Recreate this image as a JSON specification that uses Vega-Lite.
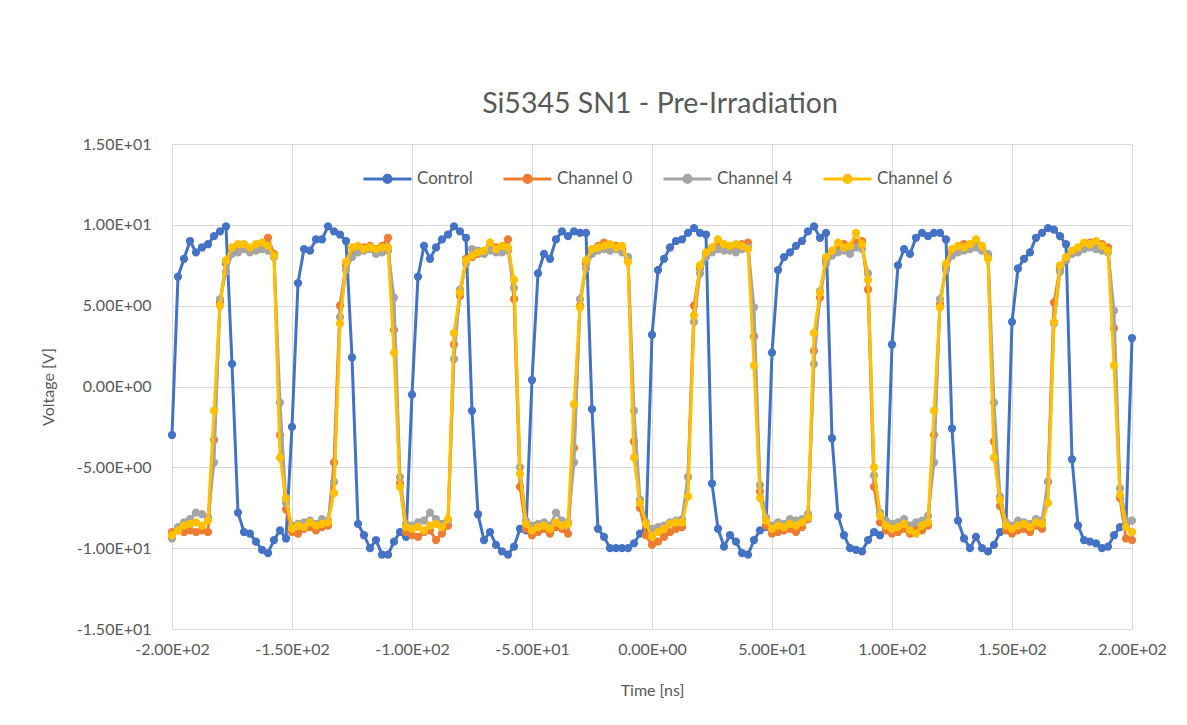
{
  "$schema": "https://vega.github.io/schema/vega-lite/v6.json",
  "width": 960,
  "height": 485,
  "autosize": {"type": "none"},
  "padding": {"left": 172, "top": 144, "right": 55, "bottom": 96},
  "background": "white",
  "title": {
    "text": "Si5345 SN1 - Pre-Irradiation",
    "font": "Lato",
    "fontSize": 28.5,
    "fontWeight": "normal",
    "color": "#595959",
    "anchor": "middle",
    "baseline": "alphabetic",
    "offset": 24,
    "dx": 8,
    "dy": 29
  },
  "config": {
    "view": {"stroke": "#d9d9d9", "strokeWidth": 1},
    "axis": {
      "grid": true,
      "gridColor": "#d9d9d9",
      "gridWidth": 1,
      "domain": false,
      "ticks": false,
      "labelFlush": false,
      "labelOverlap": false,
      "labelFont": "Lato",
      "labelFontSize": 16,
      "labelColor": "#595959",
      "titleFont": "Lato",
      "titleFontSize": 16,
      "titleFontWeight": "normal",
      "titleColor": "#595959"
    }
  },
  "data": {
    "values": [
      {"t": -200, "Control": -3.0, "Channel 0": -9.0, "Channel 4": -9.4, "Channel 6": -9.2},
      {"t": -197.5, "Control": 6.8, "Channel 0": -8.9, "Channel 4": -8.7, "Channel 6": -8.9},
      {"t": -195, "Control": 7.9, "Channel 0": -9.0, "Channel 4": -8.4, "Channel 6": -8.6},
      {"t": -192.5, "Control": 9.0, "Channel 0": -8.9, "Channel 4": -8.2, "Channel 6": -8.5},
      {"t": -190, "Control": 8.3, "Channel 0": -9.0, "Channel 4": -7.8, "Channel 6": -8.4},
      {"t": -187.5, "Control": 8.6, "Channel 0": -8.9, "Channel 4": -7.9, "Channel 6": -8.6},
      {"t": -185, "Control": 8.8, "Channel 0": -9.0, "Channel 4": -8.1, "Channel 6": -8.3},
      {"t": -182.5, "Control": 9.3, "Channel 0": -3.3, "Channel 4": -4.7, "Channel 6": -1.5},
      {"t": -180, "Control": 9.6, "Channel 0": 5.2, "Channel 4": 5.4, "Channel 6": 5.0},
      {"t": -177.5, "Control": 9.9, "Channel 0": 7.6, "Channel 4": 7.1, "Channel 6": 7.8},
      {"t": -175, "Control": 1.4, "Channel 0": 8.4, "Channel 4": 8.2, "Channel 6": 8.6},
      {"t": -172.5, "Control": -7.8, "Channel 0": 8.6, "Channel 4": 8.3, "Channel 6": 8.8},
      {"t": -170, "Control": -9.0, "Channel 0": 8.7, "Channel 4": 8.5, "Channel 6": 8.8},
      {"t": -167.5, "Control": -9.1, "Channel 0": 8.5, "Channel 4": 8.3, "Channel 6": 8.6},
      {"t": -165, "Control": -9.6, "Channel 0": 8.6, "Channel 4": 8.4, "Channel 6": 8.8},
      {"t": -162.5, "Control": -10.1, "Channel 0": 8.7, "Channel 4": 8.5, "Channel 6": 8.9},
      {"t": -160, "Control": -10.3, "Channel 0": 9.2, "Channel 4": 8.4, "Channel 6": 8.7},
      {"t": -157.5, "Control": -9.5, "Channel 0": 8.2, "Channel 4": 8.0, "Channel 6": 8.1},
      {"t": -155, "Control": -8.9, "Channel 0": -3.0, "Channel 4": -1.0, "Channel 6": -4.4},
      {"t": -152.5, "Control": -9.4, "Channel 0": -7.6, "Channel 4": -7.2, "Channel 6": -6.9},
      {"t": -150, "Control": -2.5, "Channel 0": -9.0, "Channel 4": -8.6, "Channel 6": -8.8},
      {"t": -147.5, "Control": 6.4, "Channel 0": -9.1, "Channel 4": -8.5, "Channel 6": -8.6},
      {"t": -145, "Control": 8.5, "Channel 0": -8.8, "Channel 4": -8.4, "Channel 6": -8.7},
      {"t": -142.5, "Control": 8.4, "Channel 0": -8.7, "Channel 4": -8.3, "Channel 6": -8.4},
      {"t": -140, "Control": 9.1, "Channel 0": -8.9, "Channel 4": -8.5, "Channel 6": -8.6},
      {"t": -137.5, "Control": 9.1, "Channel 0": -8.7, "Channel 4": -8.2, "Channel 6": -8.5},
      {"t": -135, "Control": 9.9, "Channel 0": -8.6, "Channel 4": -8.3, "Channel 6": -8.4},
      {"t": -132.5, "Control": 9.6, "Channel 0": -4.7, "Channel 4": -5.9, "Channel 6": -6.6},
      {"t": -130, "Control": 9.4, "Channel 0": 5.0, "Channel 4": 4.3, "Channel 6": 3.9},
      {"t": -127.5, "Control": 9.0, "Channel 0": 7.5, "Channel 4": 7.2, "Channel 6": 7.7},
      {"t": -125, "Control": 1.8, "Channel 0": 8.2, "Channel 4": 8.0, "Channel 6": 8.6},
      {"t": -122.5, "Control": -8.5, "Channel 0": 8.6, "Channel 4": 8.3, "Channel 6": 8.7},
      {"t": -120, "Control": -9.2, "Channel 0": 8.6, "Channel 4": 8.4, "Channel 6": 8.5},
      {"t": -117.5, "Control": -10.0, "Channel 0": 8.7, "Channel 4": 8.5, "Channel 6": 8.6},
      {"t": -115, "Control": -9.5, "Channel 0": 8.5, "Channel 4": 8.2, "Channel 6": 8.5},
      {"t": -112.5, "Control": -10.4, "Channel 0": 8.7, "Channel 4": 8.3, "Channel 6": 8.6},
      {"t": -110, "Control": -10.4, "Channel 0": 9.2, "Channel 4": 8.4, "Channel 6": 8.6},
      {"t": -107.5, "Control": -9.6, "Channel 0": 3.5, "Channel 4": 5.5, "Channel 6": 2.1},
      {"t": -105, "Control": -9.0, "Channel 0": -6.0, "Channel 4": -5.6, "Channel 6": -6.2},
      {"t": -102.5, "Control": -9.3, "Channel 0": -9.0, "Channel 4": -8.5, "Channel 6": -8.7},
      {"t": -100, "Control": -0.5, "Channel 0": -9.2, "Channel 4": -8.6, "Channel 6": -8.8},
      {"t": -97.5, "Control": 6.8, "Channel 0": -9.3, "Channel 4": -8.4, "Channel 6": -8.7},
      {"t": -95, "Control": 8.7, "Channel 0": -9.0, "Channel 4": -8.3, "Channel 6": -8.9},
      {"t": -92.5, "Control": 7.9, "Channel 0": -8.9, "Channel 4": -7.8, "Channel 6": -8.6},
      {"t": -90, "Control": 8.6, "Channel 0": -9.5, "Channel 4": -8.2, "Channel 6": -8.5},
      {"t": -87.5, "Control": 9.1, "Channel 0": -9.1, "Channel 4": -8.5, "Channel 6": -8.7},
      {"t": -85, "Control": 9.4, "Channel 0": -8.6, "Channel 4": -8.3, "Channel 6": -8.2},
      {"t": -82.5, "Control": 9.9, "Channel 0": 2.6, "Channel 4": 1.7, "Channel 6": 3.3},
      {"t": -80, "Control": 9.6, "Channel 0": 5.6, "Channel 4": 6.0, "Channel 6": 5.8},
      {"t": -77.5, "Control": 9.2, "Channel 0": 7.9, "Channel 4": 7.6, "Channel 6": 7.8},
      {"t": -75, "Control": -1.5, "Channel 0": 8.0, "Channel 4": 8.5, "Channel 6": 8.1},
      {"t": -72.5, "Control": -7.9, "Channel 0": 8.2, "Channel 4": 8.4, "Channel 6": 8.3},
      {"t": -70, "Control": -9.5, "Channel 0": 8.3, "Channel 4": 8.2, "Channel 6": 8.4},
      {"t": -67.5, "Control": -9.0, "Channel 0": 8.7, "Channel 4": 8.4, "Channel 6": 8.9},
      {"t": -65, "Control": -9.8, "Channel 0": 8.6, "Channel 4": 8.3, "Channel 6": 8.5},
      {"t": -62.5, "Control": -10.2, "Channel 0": 8.5, "Channel 4": 8.3, "Channel 6": 8.7},
      {"t": -60, "Control": -10.4, "Channel 0": 9.1, "Channel 4": 8.4, "Channel 6": 8.6},
      {"t": -57.5, "Control": -9.9, "Channel 0": 5.4, "Channel 4": 6.1, "Channel 6": 6.6},
      {"t": -55, "Control": -8.8, "Channel 0": -6.2, "Channel 4": -5.0, "Channel 6": -5.4},
      {"t": -52.5, "Control": -8.9, "Channel 0": -8.8, "Channel 4": -8.3, "Channel 6": -8.5},
      {"t": -50, "Control": 0.4, "Channel 0": -9.2, "Channel 4": -8.6, "Channel 6": -8.9},
      {"t": -47.5, "Control": 7.0, "Channel 0": -9.0, "Channel 4": -8.5, "Channel 6": -8.7},
      {"t": -45, "Control": 8.2, "Channel 0": -8.8, "Channel 4": -8.4, "Channel 6": -8.6},
      {"t": -42.5, "Control": 7.9, "Channel 0": -9.1, "Channel 4": -8.6, "Channel 6": -8.8},
      {"t": -40, "Control": 9.1, "Channel 0": -8.7, "Channel 4": -7.8, "Channel 6": -8.4},
      {"t": -37.5, "Control": 9.6, "Channel 0": -8.8, "Channel 4": -8.3, "Channel 6": -8.6},
      {"t": -35, "Control": 9.3, "Channel 0": -9.1, "Channel 4": -8.4, "Channel 6": -8.5},
      {"t": -32.5, "Control": 9.6, "Channel 0": -3.8, "Channel 4": -4.7, "Channel 6": -1.1},
      {"t": -30, "Control": 9.5, "Channel 0": 5.0, "Channel 4": 5.4, "Channel 6": 4.9},
      {"t": -27.5, "Control": 9.5, "Channel 0": 7.6, "Channel 4": 7.3, "Channel 6": 7.8},
      {"t": -25, "Control": -1.4, "Channel 0": 8.4, "Channel 4": 8.2, "Channel 6": 8.5},
      {"t": -22.5, "Control": -8.8, "Channel 0": 8.7, "Channel 4": 8.4, "Channel 6": 8.6},
      {"t": -20, "Control": -9.3, "Channel 0": 8.9, "Channel 4": 8.5, "Channel 6": 8.7},
      {"t": -17.5, "Control": -10.0, "Channel 0": 8.6, "Channel 4": 8.4, "Channel 6": 8.8},
      {"t": -15, "Control": -10.0, "Channel 0": 8.7, "Channel 4": 8.5, "Channel 6": 8.6},
      {"t": -12.5, "Control": -10.0, "Channel 0": 8.5, "Channel 4": 8.3, "Channel 6": 8.7},
      {"t": -10, "Control": -10.0, "Channel 0": 8.0, "Channel 4": 8.0, "Channel 6": 7.7},
      {"t": -7.5, "Control": -9.7, "Channel 0": -3.4, "Channel 4": -1.5, "Channel 6": -4.4},
      {"t": -5, "Control": -9.1, "Channel 0": -7.5, "Channel 4": -7.0, "Channel 6": -7.2},
      {"t": -2.5, "Control": -8.8, "Channel 0": -9.2, "Channel 4": -8.4, "Channel 6": -8.5},
      {"t": 0, "Control": 3.2, "Channel 0": -9.8, "Channel 4": -8.8, "Channel 6": -9.3},
      {"t": 2.5, "Control": 7.2, "Channel 0": -9.6, "Channel 4": -8.7, "Channel 6": -9.0},
      {"t": 5, "Control": 7.9, "Channel 0": -9.3, "Channel 4": -8.6, "Channel 6": -8.8},
      {"t": 7.5, "Control": 8.6, "Channel 0": -9.0, "Channel 4": -8.4, "Channel 6": -8.5},
      {"t": 10, "Control": 9.0, "Channel 0": -8.8, "Channel 4": -8.3, "Channel 6": -8.4},
      {"t": 12.5, "Control": 9.1, "Channel 0": -8.7, "Channel 4": -8.2, "Channel 6": -8.4},
      {"t": 15, "Control": 9.5, "Channel 0": -5.6, "Channel 4": -5.6, "Channel 6": -6.8},
      {"t": 17.5, "Control": 9.8, "Channel 0": 5.0, "Channel 4": 4.0, "Channel 6": 4.4},
      {"t": 20, "Control": 9.5, "Channel 0": 7.3, "Channel 4": 7.0, "Channel 6": 7.5},
      {"t": 22.5, "Control": 9.4, "Channel 0": 8.2, "Channel 4": 8.0, "Channel 6": 8.3},
      {"t": 25, "Control": -6.0, "Channel 0": 8.5, "Channel 4": 8.3, "Channel 6": 8.6},
      {"t": 27.5, "Control": -8.8, "Channel 0": 8.8, "Channel 4": 8.5, "Channel 6": 9.1},
      {"t": 30, "Control": -9.9, "Channel 0": 8.7, "Channel 4": 8.4, "Channel 6": 8.8},
      {"t": 32.5, "Control": -9.2, "Channel 0": 8.6, "Channel 4": 8.4, "Channel 6": 8.7},
      {"t": 35, "Control": -9.6, "Channel 0": 8.7, "Channel 4": 8.3, "Channel 6": 8.8},
      {"t": 37.5, "Control": -10.3, "Channel 0": 8.8, "Channel 4": 8.5, "Channel 6": 8.7},
      {"t": 40, "Control": -10.4, "Channel 0": 8.9, "Channel 4": 8.6, "Channel 6": 8.5},
      {"t": 42.5, "Control": -9.5, "Channel 0": 3.1, "Channel 4": 4.9, "Channel 6": 1.3},
      {"t": 45, "Control": -8.9, "Channel 0": -6.5, "Channel 4": -6.1, "Channel 6": -6.9},
      {"t": 47.5, "Control": -8.7, "Channel 0": -8.6, "Channel 4": -8.1, "Channel 6": -8.3},
      {"t": 50, "Control": 2.1, "Channel 0": -9.1, "Channel 4": -8.6, "Channel 6": -8.8},
      {"t": 52.5, "Control": 7.2, "Channel 0": -9.0, "Channel 4": -8.4, "Channel 6": -8.6},
      {"t": 55, "Control": 8.0, "Channel 0": -8.9, "Channel 4": -8.5, "Channel 6": -8.7},
      {"t": 57.5, "Control": 8.3, "Channel 0": -8.8, "Channel 4": -8.2, "Channel 6": -8.5},
      {"t": 60, "Control": 8.7, "Channel 0": -9.0, "Channel 4": -8.3, "Channel 6": -8.6},
      {"t": 62.5, "Control": 9.0, "Channel 0": -8.7, "Channel 4": -8.2, "Channel 6": -8.4},
      {"t": 65, "Control": 9.6, "Channel 0": -8.2, "Channel 4": -7.9, "Channel 6": -8.1},
      {"t": 67.5, "Control": 9.9, "Channel 0": 2.2, "Channel 4": 1.4, "Channel 6": 3.3},
      {"t": 70, "Control": 9.2, "Channel 0": 5.5, "Channel 4": 5.9, "Channel 6": 5.8},
      {"t": 72.5, "Control": 9.5, "Channel 0": 7.8, "Channel 4": 7.6, "Channel 6": 8.0},
      {"t": 75, "Control": -3.2, "Channel 0": 8.3, "Channel 4": 8.1, "Channel 6": 8.4},
      {"t": 77.5, "Control": -8.0, "Channel 0": 8.6, "Channel 4": 8.3, "Channel 6": 8.9},
      {"t": 80, "Control": -9.2, "Channel 0": 8.8, "Channel 4": 8.4, "Channel 6": 8.6},
      {"t": 82.5, "Control": -10.0, "Channel 0": 8.5, "Channel 4": 8.2, "Channel 6": 8.7},
      {"t": 85, "Control": -10.1, "Channel 0": 8.9, "Channel 4": 8.6, "Channel 6": 9.5},
      {"t": 87.5, "Control": -10.2, "Channel 0": 9.0, "Channel 4": 8.5, "Channel 6": 8.8},
      {"t": 90, "Control": -9.5, "Channel 0": 6.0, "Channel 4": 7.0, "Channel 6": 6.6},
      {"t": 92.5, "Control": -9.0, "Channel 0": -6.2, "Channel 4": -5.5, "Channel 6": -5.0},
      {"t": 95, "Control": -9.2, "Channel 0": -8.4, "Channel 4": -7.8, "Channel 6": -8.0},
      {"t": 97.5, "Control": -8.8, "Channel 0": -8.9, "Channel 4": -8.3, "Channel 6": -8.6},
      {"t": 100, "Control": 2.6, "Channel 0": -9.1, "Channel 4": -8.5, "Channel 6": -8.8},
      {"t": 102.5, "Control": 7.5, "Channel 0": -9.0, "Channel 4": -8.4, "Channel 6": -8.7},
      {"t": 105, "Control": 8.5, "Channel 0": -8.8, "Channel 4": -8.2, "Channel 6": -8.5},
      {"t": 107.5, "Control": 8.2, "Channel 0": -9.1, "Channel 4": -8.6, "Channel 6": -8.9},
      {"t": 110, "Control": 9.2, "Channel 0": -8.8, "Channel 4": -8.4, "Channel 6": -9.1},
      {"t": 112.5, "Control": 9.5, "Channel 0": -8.9, "Channel 4": -8.3, "Channel 6": -8.6},
      {"t": 115, "Control": 9.3, "Channel 0": -8.6, "Channel 4": -8.0, "Channel 6": -8.4},
      {"t": 117.5, "Control": 9.5, "Channel 0": -3.0, "Channel 4": -4.7, "Channel 6": -1.5},
      {"t": 120, "Control": 9.5, "Channel 0": 5.1, "Channel 4": 5.4, "Channel 6": 4.9},
      {"t": 122.5, "Control": 9.1, "Channel 0": 7.4, "Channel 4": 7.2, "Channel 6": 7.6},
      {"t": 125, "Control": -2.6, "Channel 0": 8.3, "Channel 4": 8.1, "Channel 6": 8.5},
      {"t": 127.5, "Control": -8.3, "Channel 0": 8.6, "Channel 4": 8.3, "Channel 6": 8.7},
      {"t": 130, "Control": -9.4, "Channel 0": 8.8, "Channel 4": 8.4, "Channel 6": 8.6},
      {"t": 132.5, "Control": -10.0, "Channel 0": 8.7, "Channel 4": 8.5, "Channel 6": 8.8},
      {"t": 135, "Control": -9.3, "Channel 0": 8.9, "Channel 4": 8.6, "Channel 6": 9.1},
      {"t": 137.5, "Control": -10.0, "Channel 0": 8.6, "Channel 4": 8.4, "Channel 6": 8.7},
      {"t": 140, "Control": -10.2, "Channel 0": 8.1, "Channel 4": 8.2, "Channel 6": 7.9},
      {"t": 142.5, "Control": -9.8, "Channel 0": -3.4, "Channel 4": -1.0, "Channel 6": -4.4},
      {"t": 145, "Control": -9.0, "Channel 0": -7.4, "Channel 4": -6.8, "Channel 6": -7.0},
      {"t": 147.5, "Control": -8.6, "Channel 0": -8.9, "Channel 4": -8.4, "Channel 6": -8.6},
      {"t": 150, "Control": 4.0, "Channel 0": -9.1, "Channel 4": -8.6, "Channel 6": -8.8},
      {"t": 152.5, "Control": 7.3, "Channel 0": -8.9, "Channel 4": -8.3, "Channel 6": -8.6},
      {"t": 155, "Control": 7.9, "Channel 0": -8.8, "Channel 4": -8.4, "Channel 6": -8.5},
      {"t": 157.5, "Control": 8.3, "Channel 0": -9.0, "Channel 4": -8.5, "Channel 6": -8.7},
      {"t": 160, "Control": 9.2, "Channel 0": -8.6, "Channel 4": -8.2, "Channel 6": -8.4},
      {"t": 162.5, "Control": 9.5, "Channel 0": -8.8, "Channel 4": -8.3, "Channel 6": -8.5},
      {"t": 165, "Control": 9.8, "Channel 0": -5.9, "Channel 4": -5.9, "Channel 6": -7.2},
      {"t": 167.5, "Control": 9.7, "Channel 0": 5.2, "Channel 4": 3.9, "Channel 6": 4.0},
      {"t": 170, "Control": 9.3, "Channel 0": 7.3, "Channel 4": 7.1, "Channel 6": 7.5},
      {"t": 172.5, "Control": 8.8, "Channel 0": 7.9, "Channel 4": 7.8, "Channel 6": 8.0},
      {"t": 175, "Control": -4.5, "Channel 0": 8.3, "Channel 4": 8.2, "Channel 6": 8.4},
      {"t": 177.5, "Control": -8.6, "Channel 0": 8.5, "Channel 4": 8.3, "Channel 6": 8.6},
      {"t": 180, "Control": -9.5, "Channel 0": 8.7, "Channel 4": 8.5, "Channel 6": 8.9},
      {"t": 182.5, "Control": -9.6, "Channel 0": 8.9, "Channel 4": 8.6, "Channel 6": 8.8},
      {"t": 185, "Control": -9.7, "Channel 0": 8.7, "Channel 4": 8.5, "Channel 6": 9.0},
      {"t": 187.5, "Control": -10.0, "Channel 0": 8.8, "Channel 4": 8.4, "Channel 6": 8.7},
      {"t": 190, "Control": -9.9, "Channel 0": 8.6, "Channel 4": 8.3, "Channel 6": 8.4},
      {"t": 192.5, "Control": -9.2, "Channel 0": 3.6, "Channel 4": 4.7, "Channel 6": 1.3},
      {"t": 195, "Control": -8.7, "Channel 0": -6.9, "Channel 4": -6.3, "Channel 6": -6.7},
      {"t": 197.5, "Control": -8.5, "Channel 0": -9.4, "Channel 4": -8.3, "Channel 6": -8.7},
      {"t": 200, "Control": 3.0, "Channel 0": -9.5, "Channel 4": -8.3, "Channel 6": -9.0}
    ]
  },
  "transform": [
    {"fold": ["Control", "Channel 0", "Channel 4", "Channel 6"], "as": ["series", "v"]}
  ],
  "encoding": {
    "x": {
      "field": "t",
      "type": "quantitative",
      "scale": {"domain": [-200, 200], "nice": false, "zero": false},
      "axis": {
        "values": [-200, -150, -100, -50, 0, 50, 100, 150, 200],
        "labelExpr": "replace(replace(format(datum.value, '.2e'), 'e+', 'E+0'), '\u2212', '-')",
        "labelPadding": 12,
        "title": "Time [ns]",
        "titleX": 480,
        "titleY": 61,
        "titleBaseline": "middle",
        "titleAlign": "center"
      }
    },
    "y": {
      "field": "v",
      "type": "quantitative",
      "scale": {"domain": [-15, 15], "nice": false, "zero": false},
      "axis": {
        "values": [-15, -10, -5, 0, 5, 10, 15],
        "labelExpr": "replace(replace(format(datum.value, '.2e'), 'e+', 'E+0'), '\u2212', '-')",
        "labelPadding": 21,
        "title": "Voltage [V]",
        "titleAngle": -90,
        "titleX": -124,
        "titleY": 242.5,
        "titleBaseline": "middle",
        "titleAlign": "center"
      }
    },
    "color": {
      "field": "series",
      "type": "nominal",
      "scale": {
        "domain": ["Control", "Channel 0", "Channel 4", "Channel 6"],
        "range": ["#4472C4", "#ED7D31", "#A5A5A5", "#FFC000"]
      },
      "legend": {
        "title": null,
        "orient": "none",
        "direction": "horizontal",
        "legendX": 190,
        "legendY": 9,
        "padding": 0,
        "symbolType": "M-1,0L1,0M0.15,0A0.15,0.15,0,1,1,-0.15,0A0.15,0.15,0,1,1,0.15,0Z",
        "symbolSize": 2304,
        "symbolStrokeWidth": 3,
        "labelFont": "Lato",
        "labelFontSize": 17,
        "labelColor": "#595959",
        "labelOffset": 4,
        "columnPadding": 24,
        "encode": {
          "symbols": {
            "update": {
              "fill": {"scale": "color", "field": "value"},
              "stroke": {"scale": "color", "field": "value"},
              "opacity": {"value": 1}
            }
          }
        }
      }
    }
  },
  "layer": [
    {
      "transform": [{"filter": {"field": "series", "equal": "Control"}}],
      "mark": {"type": "line", "strokeWidth": 3, "point": {"filled": true, "size": 68, "opacity": 1}}
    },
    {
      "transform": [{"filter": {"field": "series", "equal": "Channel 0"}}],
      "mark": {"type": "line", "strokeWidth": 3, "point": {"filled": true, "size": 68, "opacity": 1}}
    },
    {
      "transform": [{"filter": {"field": "series", "equal": "Channel 4"}}],
      "mark": {"type": "line", "strokeWidth": 3, "point": {"filled": true, "size": 68, "opacity": 1}}
    },
    {
      "transform": [{"filter": {"field": "series", "equal": "Channel 6"}}],
      "mark": {"type": "line", "strokeWidth": 3, "point": {"filled": true, "size": 68, "opacity": 1}}
    }
  ]
}
